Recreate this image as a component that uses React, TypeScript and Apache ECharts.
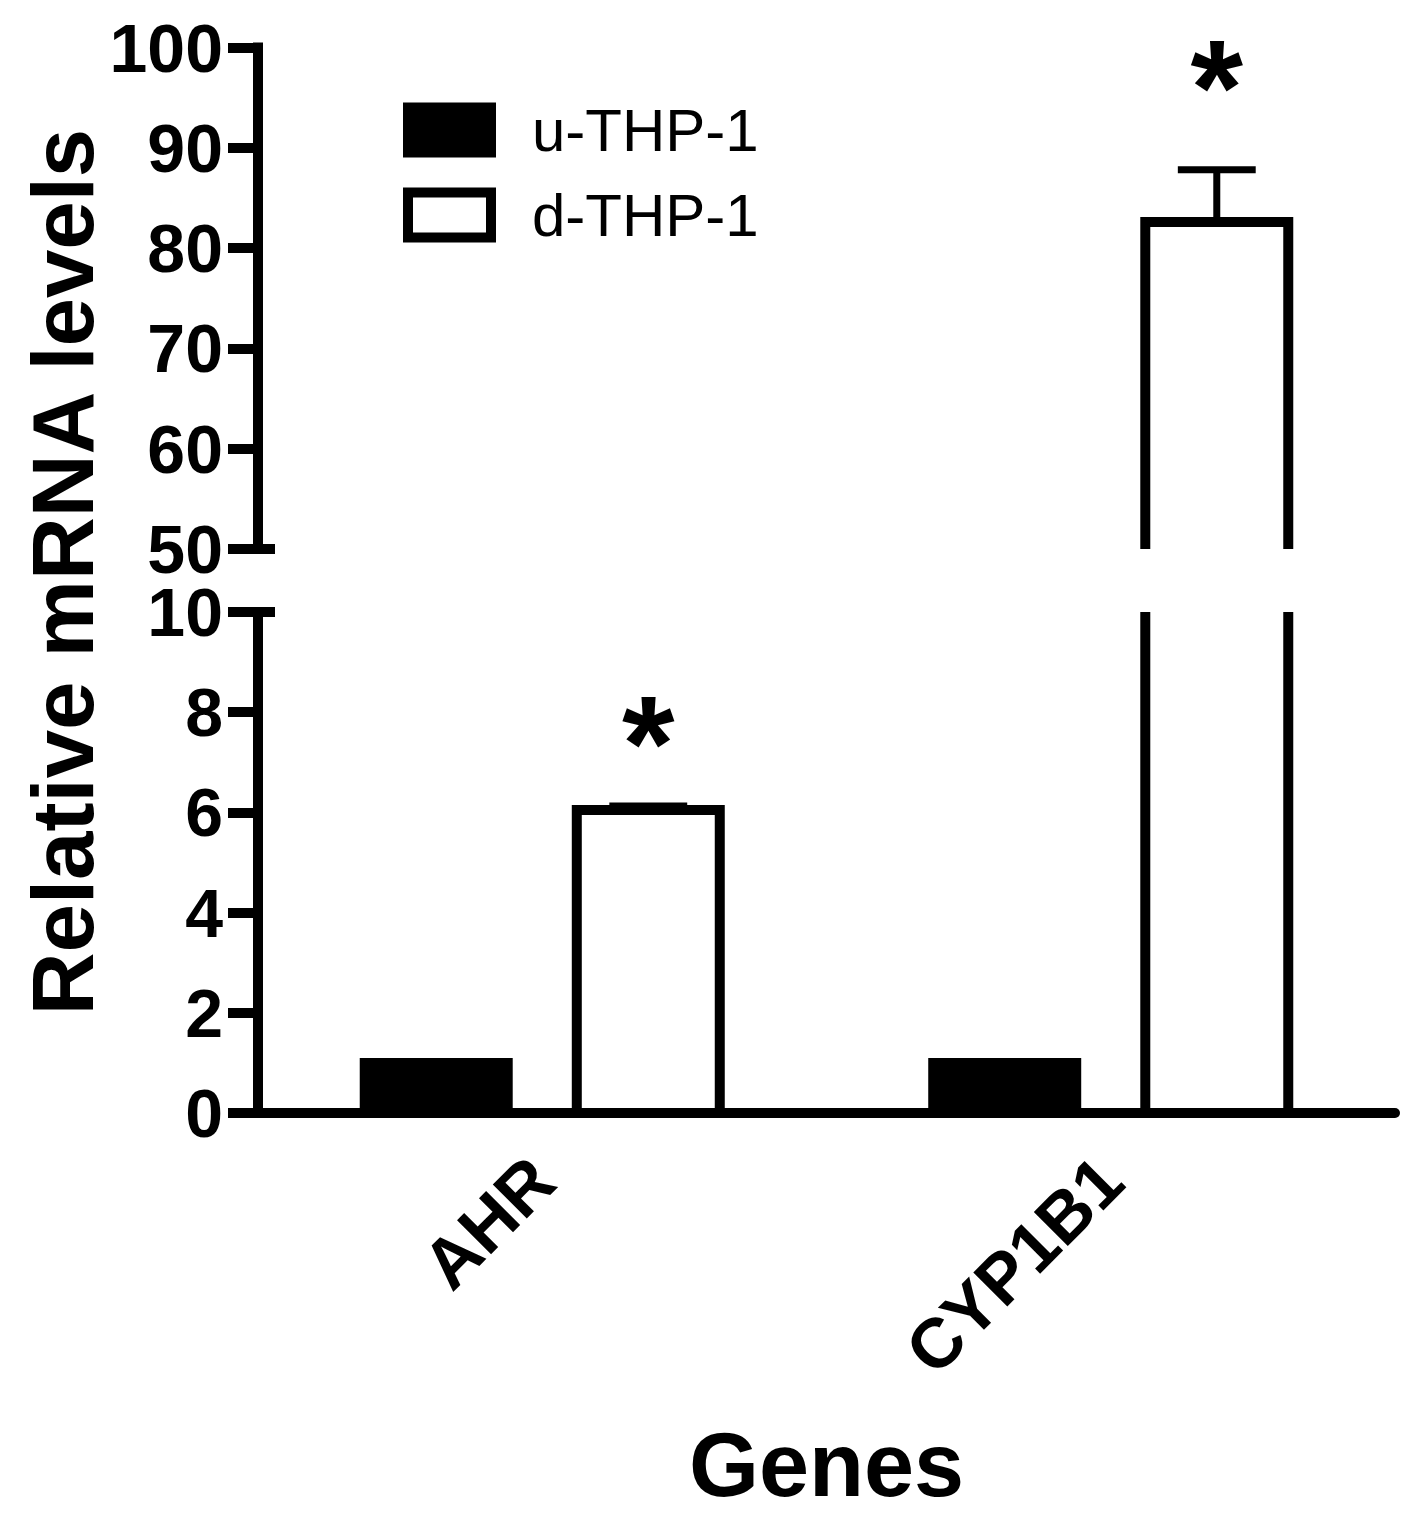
import React, { useEffect, useRef } from 'react';
import * as echarts from 'echarts';

const categories = ['AHR', 'CYP1B1'];
const seriesNames = ['u-THP-1', 'd-THP-1'];
const uTHP1 = [1.0, 1.0];
const uTHP1Err = [0, 0];
const dTHP1 = [6.05, 82.6];
const dTHP1Err = [0.08, 5.2];
const sigLabels = ['*', '*'];
const sigValues = [7.75, 97.9];
const lowerAxis = [0, 10, 2]; // min, max, interval
const upperAxis = [50, 100, 10];
const yTitle = 'Relative mRNA levels';
const xTitle = 'Genes';

const FONT = '"Liberation Sans", Arial, Helvetica, sans-serif';
const LW = 10;
const OFFSET = 0.1865;
const BARW = 0.2515;
const CAPW = 0.137;
const ERRW = 7;

function makeBarRenderer(fill: string, sign: number) {
  return (params: any, api: any) => {
    const cs = params.coordSys;
    const cat = api.value(0);
    const v = api.value(1);
    const err = api.value(2);
    const band = api.size([1, 0])[0];
    const cx = api.coord([cat, 0])[0] + sign * OFFSET * band;
    const w = BARW * band;
    const left = cx - w / 2;
    const right = cx + w / 2;
    const gTop = cs.y;
    const gBot = cs.y + cs.height;
    const yTopRaw = api.coord([cat, v])[1];
    const yBaseRaw = api.coord([cat, 0])[1];
    if (yTopRaw > gBot - 0.5) return null;
    const openTop = yTopRaw < gTop - 0.5;
    const openBot = yBaseRaw > gBot + 0.5;
    const yTop = Math.max(yTopRaw, gTop);
    const yBase = Math.min(yBaseRaw, gBot);
    const children: any[] = [];
    children.push({
      type: 'rect',
      shape: { x: left, y: yTop, width: w, height: yBase - yTop },
      style: { fill, stroke: null },
    });
    const stroke = { fill: 'none', stroke: '#000', lineWidth: LW, lineJoin: 'miter', lineCap: 'butt' };
    if (!openTop && !openBot) {
      children.push({
        type: 'rect',
        shape: { x: left, y: yTop, width: w, height: yBase - yTop },
        style: stroke,
      });
    } else if (openTop && !openBot) {
      children.push({
        type: 'polyline',
        shape: { points: [[left, yTop], [left, yBase], [right, yBase], [right, yTop]] },
        style: stroke,
      });
    } else if (!openTop && openBot) {
      children.push({
        type: 'polyline',
        shape: { points: [[left, yBase], [left, yTop], [right, yTop], [right, yBase]] },
        style: stroke,
      });
    } else {
      children.push({ type: 'line', shape: { x1: left, y1: yTop, x2: left, y2: yBase }, style: stroke });
      children.push({ type: 'line', shape: { x1: right, y1: yTop, x2: right, y2: yBase }, style: stroke });
    }
    if (err > 0 && !openTop) {
      const yErr = api.coord([cat, v + err])[1];
      if (yErr >= gTop - 1) {
        const es = { stroke: '#000', lineWidth: ERRW, lineCap: 'butt' };
        children.push({ type: 'line', shape: { x1: cx, y1: yTop - LW / 2, x2: cx, y2: yErr }, style: es });
        const half = (CAPW * band) / 2;
        children.push({ type: 'line', shape: { x1: cx - half, y1: yErr, x2: cx + half, y2: yErr }, style: es });
      }
    }
    return { type: 'group', children };
  };
}

function sigRenderer(params: any, api: any) {
  const cs = params.coordSys;
  const idx = params.dataIndex;
  const cat = api.value(0);
  const v = api.value(1);
  const band = api.size([1, 0])[0];
  const x = api.coord([cat, 0])[0] + OFFSET * band;
  const y = api.coord([cat, v])[1];
  if (y < cs.y - 60 || y > cs.y + cs.height) return null;
  const fs = 135;
  return {
    type: 'text',
    x,
    y: y + 0.14 * fs,
    style: {
      text: sigLabels[idx],
      fontSize: fs,
      fontWeight: 'bold',
      fontFamily: FONT,
      fill: '#000',
      align: 'center',
      verticalAlign: 'middle',
    },
  };
}

const uData = categories.map((_, i) => [i, uTHP1[i], uTHP1Err[i]]);
const dData = categories.map((_, i) => [i, dTHP1[i], dTHP1Err[i]]);
const sData = categories.map((_, i) => [i, sigValues[i]]);

const GRID_LEFT = 258;
const GRID_RIGHT = 27;

function yAxisCfg(gridIndex: number, r: number[]) {
  return {
    type: 'value',
    gridIndex,
    min: r[0],
    max: r[1],
    interval: r[2],
    axisLine: { show: true, lineStyle: { color: '#000', width: LW, cap: 'square' } },
    axisTick: { show: true, length: 30, lineStyle: { color: '#000', width: LW } },
    axisLabel: { fontSize: 68, lineHeight: 52, fontWeight: 'bold', fontFamily: FONT, color: '#000', margin: 35 },
    splitLine: { show: false },
  };
}

export default function App() {
  const ref = useRef<HTMLDivElement>(null);
  useEffect(() => {
    if (!ref.current) return;
    const chart = echarts.init(ref.current, undefined, { renderer: 'svg' });
    const option: any = {
      animation: false,
      backgroundColor: '#fff',
      textStyle: { fontFamily: FONT },
      legend: {
        orient: 'vertical',
        left: 403,
        top: 100,
        padding: 0,
        itemWidth: 83,
        itemHeight: 45,
        itemGap: 25,
        icon: 'rect',
        selectedMode: false,
        data: [
          { name: seriesNames[0], itemStyle: { color: '#000', borderColor: '#000', borderWidth: LW } },
          { name: seriesNames[1], itemStyle: { color: '#fff', borderColor: '#000', borderWidth: LW } },
        ],
        textStyle: { fontSize: 60, color: '#000', fontFamily: FONT, padding: [0, 0, 0, 36] },
      },
      grid: [
        { left: GRID_LEFT, right: GRID_RIGHT, top: 612, height: 501 },
        { left: GRID_LEFT, right: GRID_RIGHT, top: 47.5, height: 501.5 },
      ],
      xAxis: [
        {
          type: 'category',
          gridIndex: 0,
          data: categories,
          axisLine: { lineStyle: { color: '#000', width: LW } },
          axisTick: { alignWithLabel: true, length: 30, lineStyle: { color: '#000', width: LW } },
          axisLabel: { rotate: 45, fontSize: 70, fontWeight: 'bold', fontFamily: FONT, color: '#000', margin: 56 },
          name: xTitle,
          nameLocation: 'middle',
          nameGap: 352,
          nameTextStyle: { fontSize: 90, fontWeight: 'bold', fontFamily: FONT, color: '#000', verticalAlign: 'middle' },
        },
        { type: 'category', gridIndex: 1, data: categories, show: false },
      ],
      yAxis: [yAxisCfg(0, lowerAxis), yAxisCfg(1, upperAxis)],
      series: [
        { type: 'custom', name: seriesNames[0], xAxisIndex: 0, yAxisIndex: 0, data: uData, encode: { x: 0, y: 1 }, itemStyle: { color: '#000' }, renderItem: makeBarRenderer('#000', -1) },
        { type: 'custom', name: seriesNames[1], xAxisIndex: 0, yAxisIndex: 0, data: dData, encode: { x: 0, y: 1 }, itemStyle: { color: '#fff' }, renderItem: makeBarRenderer('#fff', 1) },
        { type: 'custom', name: seriesNames[0], xAxisIndex: 1, yAxisIndex: 1, data: uData, encode: { x: 0, y: 1 }, itemStyle: { color: '#000' }, renderItem: makeBarRenderer('#000', -1) },
        { type: 'custom', name: seriesNames[1], xAxisIndex: 1, yAxisIndex: 1, data: dData, encode: { x: 0, y: 1 }, itemStyle: { color: '#fff' }, renderItem: makeBarRenderer('#fff', 1) },
        { type: 'custom', name: 'sig-lower', xAxisIndex: 0, yAxisIndex: 0, data: sData.filter((d) => d[1] <= lowerAxis[1]), encode: { x: 0, y: 1 }, renderItem: sigRenderer },
        { type: 'custom', name: 'sig-upper', xAxisIndex: 1, yAxisIndex: 1, data: sData, encode: { x: 0, y: 1 }, renderItem: (p: any, a: any) => (a.value(1) >= upperAxis[0] ? sigRenderer(p, a) : null) },
      ],
      graphic: [
        {
          id: 'ytitle',
          type: 'text',
          x: 62,
          y: 572,
          rotation: Math.PI / 2,
          style: {
            text: yTitle,
            fontSize: 87,
            fontWeight: 'bold',
            fontFamily: FONT,
            fill: '#000',
            align: 'center',
            verticalAlign: 'middle',
          },
        },
      ],
    };
    chart.setOption(option);
    const y50 = chart.convertToPixel({ yAxisIndex: 1 } as any, upperAxis[0]) as number;
    const y10 = chart.convertToPixel({ yAxisIndex: 0 } as any, lowerAxis[1]) as number;
    chart.setOption({
      graphic: [
        { id: 'ytitle' },
        { id: 'brk1', type: 'line', shape: { x1: GRID_LEFT, y1: y50, x2: GRID_LEFT + 17, y2: y50 }, style: { stroke: '#000', lineWidth: LW } },
        { id: 'brk2', type: 'line', shape: { x1: GRID_LEFT, y1: y10, x2: GRID_LEFT + 17, y2: y10 }, style: { stroke: '#000', lineWidth: LW } },
      ],
    });
    return () => chart.dispose();
  }, []);
  return <div ref={ref} style={{ position: 'absolute', left: 0, top: 0, width: 1422, height: 1524 }} />;
}
